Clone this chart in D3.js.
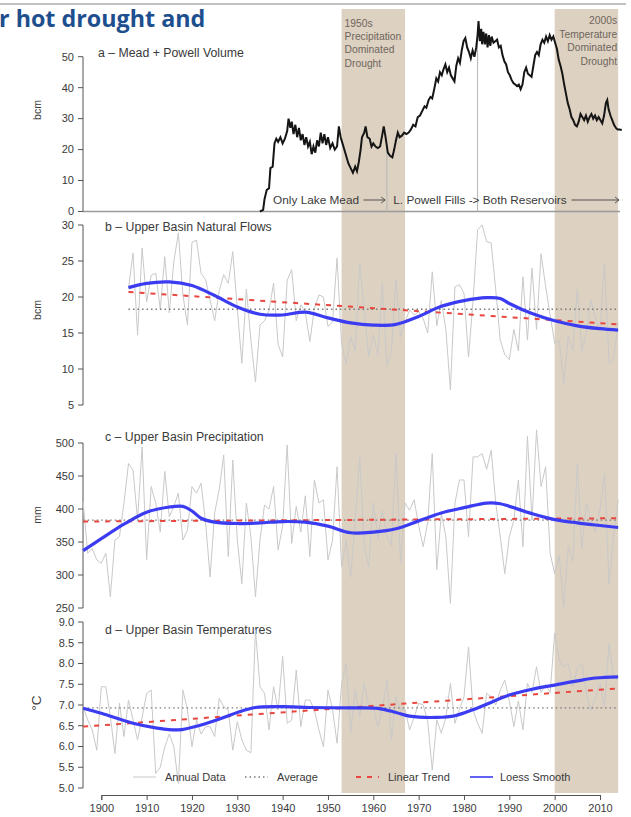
<!DOCTYPE html>
<html>
<head>
<meta charset="utf-8">
<script src="https://cdn.jsdelivr.net/npm/d3@7"></script>
<style>
  body { margin: 0; background: #fff; }
  svg { display: block; font-family: "Liberation Sans", Arial, sans-serif; }
</style>
</head>
<body>
<svg id="chart" width="631" height="817"></svg>
<script>
// ---- data ----
const droughtBands = [[1953, 1967], [2000, 2014]];
const bandNotes = [["1950s", "Precipitation", "Dominated", "Drought"],
                   ["2000s", "Temperature", "Dominated", "Drought"]];

// a - Mead + Powell volume (bcm), roughly twice a year
const volYears = [1935,1935.7,1936,1936.5,1937,1937.3,1937.8,1938.2,1938.6,1939,1939.5,1940,1940.5,1941,1941.3,1941.7,1942,1942.4,1942.8,1943.2,1943.6,1944,1944.4,1944.8,1945.2,1945.6,1946,1946.4,1946.8,1947.2,1947.6,1948,1948.4,1948.8,1949.2,1949.6,1950,1950.5,1951,1951.5,1952,1952.4,1952.8,1953.2,1953.6,1954,1954.5,1955,1955.5,1956,1956.4,1956.8,1957.2,1957.5,1958,1958.3,1958.7,1959.2,1959.6,1960,1960.5,1961,1961.5,1962,1962.3,1962.7,1963.2,1963.7,1964.2,1964.6,1965,1965.4,1965.8,1966.3,1966.8,1967.3,1967.8,1968.3,1968.8,1969.3,1969.8,1970.3,1970.8,1971.3,1971.7,1972.2,1972.6,1973,1973.5,1973.9,1974.3,1974.7,1975.1,1975.5,1975.9,1976.3,1976.7,1977.1,1977.5,1977.9,1978.3,1978.7,1979.1,1979.5,1979.9,1980.3,1980.7,1981.1,1981.5,1981.9,1982.3,1982.7,1983,1983.2,1983.5,1983.8,1984,1984.3,1984.6,1984.9,1985.2,1985.5,1985.8,1986.1,1986.5,1986.9,1987.3,1987.7,1988.1,1988.5,1988.9,1989.3,1989.7,1990.1,1990.5,1990.9,1991.3,1991.7,1992.1,1992.5,1992.9,1993.3,1993.7,1994.1,1994.5,1994.9,1995.3,1995.7,1996.1,1996.5,1996.9,1997.3,1997.7,1998.1,1998.5,1998.9,1999.3,1999.7,2000.1,2000.5,2000.9,2001.3,2001.7,2002.1,2002.5,2002.9,2003.3,2003.7,2004.1,2004.5,2004.9,2005.3,2005.7,2006.1,2006.5,2006.9,2007.3,2007.7,2008.1,2008.5,2008.9,2009.3,2009.7,2010.1,2010.5,2010.9,2011.3,2011.6,2011.9,2012.3,2012.7,2013.1,2013.5,2013.9,2014.3,2014.8];
const volValues = [0,0.5,4,7,7.5,14,14.5,22,23.5,22.5,24,22,23.5,26,30,27,29,25,28,24,27,23,25,21.5,24,21,22.5,18.5,21,19,23,21,25.5,22,25,21.5,24,20.5,22,20,21,27.5,24,22,20,18,15.5,14,12.5,14.5,13,16,20,24,25.5,27.5,24,23.5,21,22,21,20.5,21,25,27.5,24,19,18,17.5,20,23,25.5,24,24.5,25.5,25,25.5,26.5,28,27.5,30.5,31,32.5,34,33.5,36,37,36.5,40,43,42,45,44,46,47.5,45,46.5,44,43,42,47,49.5,48,52,55,56,53,51.5,49.5,52,50,53,57,61.5,55,59,54,58,54,57.5,53,57,53.5,56.5,54.5,55,55.5,53,53.5,50.5,48.5,47.5,45,44,42.5,41.5,41,40.5,41,39.5,41,45,46.5,44.5,44,43.5,47,50.5,51.5,50.5,54,55.5,54.5,56.5,55,57,55.5,56.5,54.5,52.5,49,47,44.5,41,38,35,33,30.5,29.5,28,27.5,29,31.5,30.5,29.5,31,29,30.5,31.5,30,31,29.5,30.5,29.5,28.5,31,35,36,33,31,29.5,28,27,26.5,26.5,26.3];
const reservoirMarks = [[1963, 20], [1983, 58]];

// b - Upper Basin natural flows (bcm)
const flowYears = d3.range(1906, 2015);
const flowValues = [21.2,26.1,14.7,26.8,19.3,23.0,23.3,18.3,25.6,17.8,24.9,28.9,20.3,16.1,27.6,27.9,23.3,22.4,19.6,16.7,20.8,23.1,21.9,26.3,18.4,10.8,21.1,14.0,8.2,16.1,16.7,18.1,21.9,13.4,11.7,22.3,23.8,16.7,18.9,17.9,13.8,18.4,20.3,20.0,15.9,16.5,25.4,13.5,10.8,14.5,12.5,24.7,18.2,11.7,14.8,12.0,21.9,10.5,12.5,22.4,14.5,16.5,18.2,17.5,18.0,17.0,15.0,23.5,16.0,19.5,15.5,7.1,21.4,21.7,20.5,11.7,19.5,29.3,30.0,27.7,27.5,21.0,14.0,12.0,11.3,15.5,12.5,22.8,14.0,24.0,15.5,26.0,21.5,17.5,13.6,14.0,8.0,14.5,12.5,21.0,12.5,15.0,19.6,17.0,15.5,24.7,10.8,11.5,16.5];
const flowLoessYears = [1906,1910,1915,1920,1925,1930,1935,1940,1945,1950,1955,1960,1965,1970,1975,1980,1985,1988,1990,1995,2000,2005,2010,2014];
const flowLoess = [21.3,21.9,22.1,21.6,20.2,18.6,17.6,17.5,17.9,17.1,16.4,16.1,16.2,17.3,18.7,19.5,19.9,19.8,19.1,17.7,16.7,16.0,15.6,15.4];
const flowTrend = [[1906, 20.7], [2014, 16.2]];
const flowAverage = 18.3;

// c - Upper Basin precipitation (mm)
const precipYears = d3.range(1896, 2015);
const precipValues = [411,333,340,323,318,333,267,353,358,409,469,459,383,494,323,434,409,365,457,388,404,424,353,368,434,424,439,380,297,394,429,482,328,474,353,287,409,358,267,353,406,400,434,338,374,497,348,404,365,420,328,444,409,414,323,352,464,313,353,297,380,479,343,313,410,355,398,358,345,484,318,409,398,414,375,343,380,484,308,393,358,257,409,444,444,358,479,479,484,460,489,409,358,302,358,383,444,343,510,383,520,434,464,333,302,330,252,343,320,469,340,409,383,365,400,454,287,360,414];
const precipLoessYears = [1896,1900,1905,1910,1915,1918,1920,1922,1925,1930,1935,1940,1945,1950,1955,1960,1965,1970,1975,1980,1985,1988,1990,1995,2000,2005,2010,2014];
const precipLoess = [337,355,377,395,403,404,397,386,380,378,379,381,380,374,364,365,370,382,394,402,409,408,404,393,384,379,375,372];
const precipTrend = [[1896, 381], [2014, 386]];
const precipAverage = 383;

// d - Upper Basin temperatures (°C)
const tempYears = d3.range(1896, 2015);
const tempValues = [6.95,6.64,6.4,5.91,7.44,7.44,6.72,5.83,7.04,6.24,7.12,6.64,6.16,6.7,7.28,7.36,5.35,5.5,5.99,6.3,6.0,5.11,7.36,6.88,5.99,6.64,6.3,6.48,6.48,6.24,7.16,6.96,6.88,5.91,6.6,6.16,5.91,5.85,8.81,7.44,7.28,6.4,7.44,6.88,8.17,6.56,6.64,7.84,6.48,7.12,7.12,6.88,6.4,5.99,7.36,6.9,6.08,7.5,8.0,6.32,7.36,6.72,7.52,6.96,6.96,6.48,6.9,7.6,6.16,7.2,6.9,6.9,6.4,6.7,7.04,7.0,6.6,5.43,6.64,6.32,6.7,7.52,6.56,6.9,7.2,8.4,6.88,6.56,6.32,7.28,7.2,7.0,7.36,7.6,7.1,6.48,7.1,6.4,7.52,7.3,7.92,7.3,7.5,7.3,8.73,8.08,7.92,8.0,7.44,7.9,8.0,7.28,6.88,7.2,7.52,6.96,8.49,7.68,7.6];
const tempLoessYears = [1896,1900,1907,1912,1917,1922,1927,1930,1934,1940,1946,1955,1961,1965,1968,1974,1978,1983,1990,1995,2000,2005,2009,2014];
const tempLoess = [6.92,6.80,6.56,6.45,6.40,6.52,6.70,6.82,6.94,6.96,6.94,6.93,6.92,6.82,6.73,6.70,6.74,6.93,7.24,7.38,7.48,7.58,7.65,7.68];
const tempTrend = [[1896, 6.48], [2014, 7.40]];
const tempAverage = 6.93;

const volTicks = [0, 10, 20, 30, 40, 50];
const flowTicks = [5, 10, 15, 20, 25, 30];
const precipTicks = [250, 300, 350, 400, 450, 500];
const tempTicks = [5.0, 5.5, 6.0, 6.5, 7.0, 7.5, 8.0, 8.5, 9.0];
const yearTicks = [1900, 1910, 1920, 1930, 1940, 1950, 1960, 1970, 1980, 1990, 2000, 2010];
const legendLabels = ["Annual Data", "Average", "Linear Trend", "Loess Smooth"];

// ---- drawing ----
const svg = d3.select("#chart");
const x = d3.scaleLinear().domain([1900, 2010]).range([101.3, 600]);
const axisX = 83;
const ink = "#3a3a3a";

// header strip
svg.append("line").attr("x1", 0).attr("x2", 626).attr("y1", 4).attr("y2", 4)
  .attr("stroke", "#c2c2c2").attr("stroke-width", 2);
svg.append("text").attr("x", -1).attr("y", 27)
  .attr("font-family", "'Open Sans', sans-serif").attr("font-weight", 700)
  .attr("font-size", 23.3).attr("fill", "#1d4f8f").text("r hot drought and");

// drought bands
svg.append("g").selectAll("rect").data(droughtBands).join("rect")
  .attr("x", d => x(d[0])).attr("width", d => x(d[1]) - x(d[0]))
  .attr("y", 9).attr("height", 784).attr("fill", "#ddd1c2");

const notes = svg.append("g").attr("font-size", 10.3).attr("fill", "#6f665c");
notes.append("g").selectAll("text").data(bandNotes[0]).join("text")
  .attr("x", x(droughtBands[0][0]) + 3).attr("y", (d, i) => 27 + i * 13.2).text(d => d);
notes.append("g").selectAll("text").data(bandNotes[1]).join("text")
  .attr("text-anchor", "end")
  .attr("x", x(droughtBands[1][1]) - 1).attr("y", (d, i) => 24 + i * 13.5).text(d => d);

function yAxis(y, ticks, fmt) {
  const g = svg.append("g").attr("transform", `translate(${axisX},0)`);
  g.append("line").attr("y1", y(ticks[0])).attr("y2", y(ticks[ticks.length - 1]))
    .attr("stroke", "#555").attr("stroke-width", 1);
  const t = g.selectAll("g").data(ticks).join("g")
    .attr("transform", d => `translate(0,${y(d)})`);
  t.append("line").attr("x1", -5).attr("x2", 0).attr("stroke", "#555");
  t.append("text").attr("x", -9).attr("dy", "0.35em").attr("text-anchor", "end")
    .attr("font-size", 11).attr("fill", ink).text(fmt);
}

function yLabel(text, cy, size) {
  svg.append("text").attr("transform", `translate(41,${cy}) rotate(-90)`)
    .attr("text-anchor", "middle").attr("font-size", size).attr("fill", ink).text(text);
}

function title(text, tx, ty) {
  svg.append("text").attr("x", tx).attr("y", ty).attr("font-size", 12.3)
    .attr("fill", ink).text(text);
}

// ---- panel a ----
const ya = d3.scaleLinear().domain([0, 50]).range([211.5, 56.7]);
yAxis(ya, volTicks, d => d);
yLabel("bcm", 110, 10.5);
title("a \u2013 Mead + Powell Volume", 98, 57);
svg.append("line").attr("x1", axisX).attr("x2", 620).attr("y1", ya(0)).attr("y2", ya(0))
  .attr("stroke", "#9a9a9a").attr("stroke-width", 1.5);
svg.append("g").selectAll("line").data(reservoirMarks).join("line")
  .attr("x1", d => x(d[0])).attr("x2", d => x(d[0]))
  .attr("y1", ya(0)).attr("y2", d => ya(d[1]))
  .attr("stroke", "#b5b5b5").attr("stroke-width", 1);
svg.append("path")
  .datum(volYears.map((yr, i) => [yr, volValues[i]]))
  .attr("fill", "none").attr("stroke", "#151515").attr("stroke-width", 2)
  .attr("d", d3.line().x(d => x(d[0])).y(d => ya(d[1])));

// reservoir annotation
const ann = svg.append("g").attr("font-size", 11.8).attr("fill", ink);
ann.append("text").attr("x", x(1937.9)).attr("y", 204).text("Only Lake Mead");
ann.append("text").attr("x", x(1964.4)).attr("y", 204).text("L. Powell Fills -> Both Reservoirs");
const arrows = [[1957.8, 1962.6], [2003.7, 2014.2]];
arrows.forEach(a => {
  ann.append("line").attr("x1", x(a[0])).attr("x2", x(a[1])).attr("y1", 200).attr("y2", 200)
    .attr("stroke", "#444").attr("stroke-width", 0.9);
  ann.append("path")
    .attr("d", `M${x(a[1]) - 4},197 L${x(a[1])},200 L${x(a[1]) - 4},203`)
    .attr("fill", "none").attr("stroke", "#444").attr("stroke-width", 0.9);
});

// ---- panels b, c, d ----
function climatePanel(y, years, values, loessYears, loess, trend, average) {
  const line = d3.line().x(d => x(d[0])).y(d => y(d[1]));
  svg.append("path").datum(years.map((yr, i) => [yr, values[i]]))
    .attr("fill", "none").attr("stroke", "#c9c9c9").attr("stroke-width", 1)
    .attr("d", line);
  svg.append("path").datum([[years[0], average], [years[years.length - 1], average]])
    .attr("fill", "none").attr("stroke", "#7a7a7a").attr("stroke-width", 1.3)
    .attr("stroke-dasharray", "1.5,3").attr("d", line);
  svg.append("path").datum(trend)
    .attr("fill", "none").attr("stroke", "#e8463f").attr("stroke-width", 2)
    .attr("stroke-dasharray", "5,6").attr("d", line);
  svg.append("path").datum(loessYears.map((yr, i) => [yr, loess[i]]))
    .attr("fill", "none").attr("stroke", "#3b3cf2").attr("stroke-width", 3.2)
    .attr("d", line.curve(d3.curveCatmullRom));
}

const yb = d3.scaleLinear().domain([5, 30]).range([405, 225]);
yAxis(yb, flowTicks, d => d);
yLabel("bcm", 310, 10.5);
title("b \u2013 Upper Basin Natural Flows", 105, 231);
climatePanel(yb, flowYears, flowValues, flowLoessYears, flowLoess, flowTrend, flowAverage);

const yc = d3.scaleLinear().domain([250, 500]).range([608, 443]);
yAxis(yc, precipTicks, d => d);
yLabel("mm", 515, 10.5);
title("c \u2013 Upper Basin Precipitation", 105, 441);
climatePanel(yc, precipYears, precipValues, precipLoessYears, precipLoess, precipTrend, precipAverage);

const yd = d3.scaleLinear().domain([5, 9]).range([788, 622]);
yAxis(yd, tempTicks, d => d.toFixed(1));
yLabel("\u00b0C", 703, 13.5);
title("d \u2013 Upper Basin Temperatures", 105, 634);
climatePanel(yd, tempYears, tempValues, tempLoessYears, tempLoess, tempTrend, tempAverage);

// legend
const legendX = [133, 245, 356, 470];
const leg = svg.append("g").attr("transform", "translate(0,777)");
const items = leg.selectAll("g").data(legendLabels).join("g")
  .attr("transform", (d, i) => `translate(${legendX[i]},0)`);
items.append("line").attr("x1", 0).attr("x2", 23)
  .attr("stroke", (d, i) => ["#c9c9c9", "#7a7a7a", "#e8463f", "#3b3cf2"][i])
  .attr("stroke-width", (d, i) => [1, 1.3, 2, 1.6][i])
  .attr("stroke-dasharray", (d, i) => [null, "1.5,3", "5,6", null][i]);
items.append("text").attr("x", (d, i) => [32, 32, 32, 30][i]).attr("dy", "0.35em")
  .attr("font-size", 11).attr("fill", ink).text(d => d);

// x axis
const xg = svg.append("g").attr("transform", "translate(0,795)")
  .call(d3.axisBottom(x).tickValues(yearTicks).tickFormat(d3.format("d")).tickSizeOuter(0).tickSize(5));
xg.select(".domain").attr("stroke", "#555");
xg.selectAll(".tick line").attr("stroke", "#555");
xg.selectAll(".tick text").attr("font-size", 11).attr("fill", ink)
  .attr("font-family", "'Liberation Sans', Arial, sans-serif").attr("dy", "0.85em");
</script>
</body>
</html>
